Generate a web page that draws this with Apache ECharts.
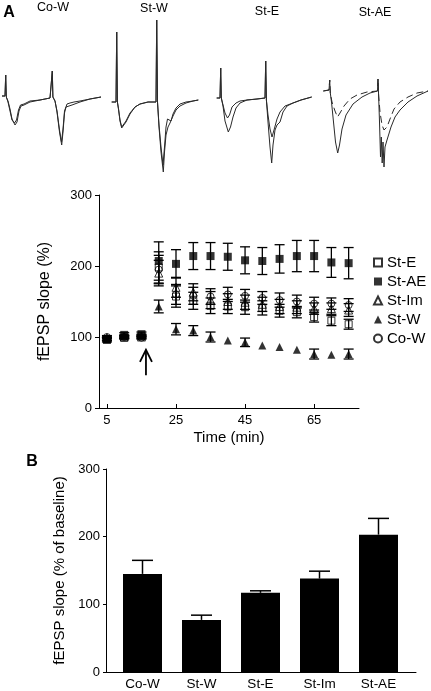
<!DOCTYPE html>
<html>
<head>
<meta charset="utf-8">
<script src="https://cdn.jsdelivr.net/npm/echarts@6/dist/echarts.min.js"></script>
<style>
html,body{margin:0;padding:0;background:#fff;}
#chart{width:431px;height:691px;}
</style>
</head>
<body>
<div id="chart"></div>
<script>
// ---------- DATA ----------
// Panel A traces: [time (a.u.), amplitude (a.u.)]
const traceLabels = ['Co-W', 'St-W', 'St-E', 'St-AE'];
const coW_a = [[2,1],[5,1],[5.7,22],[6.3,0],[8,-4],[10,-12],[12,-22],[15,-28],[17,-25],[19,-14],[21,-9],[24,-8],[30,-5],[40,-3],[50,-1],[51.8,0],[52.3,26],[52.9,0],[55,-4],[57,-15],[59.5,-35],[61.7,-48],[63,-35],[64.5,-16],[66,-10],[68,-11],[72,-8],[80,-5],[90,-2],[101,0]];
const coW_b = [[2,1],[5,1],[5.7,22],[6.3,0],[8,-5],[10,-14],[12,-23],[14.5,-26],[16.5,-23],[18.5,-13],[20.5,-8],[24,-7],[30,-4],[40,-3],[50,-1],[51.8,0],[52.3,26],[52.9,0],[55,-4],[57,-14],[59.5,-33],[61.5,-45],[63,-32],[64.5,-14],[67,-7],[70,-6],[74,-5],[80,-4],[90,-2],[101,0]];
const stW_a = [[1.7,-5],[6,-5],[6.7,65],[7.4,-5],[8.5,-12],[10,-24],[11.7,-31],[13.5,-30],[16,-25],[20,-17],[25,-10],[30,-7],[38,-5],[46,-5],[46.7,77],[47.5,-5],[49,-30],[51,-55],[53.3,-75],[54.5,-55],[56,-38],[58,-30],[60,-26],[63,-19],[66,-13],[70,-9],[76,-6],[83,-4],[88.3,-3]];
const stW_b = [[1.7,-5],[6,-5],[6.7,65],[7.4,-5],[8.5,-12],[10,-23],[11.7,-30],[13.5,-29],[16,-24],[20,-16],[25,-10],[30,-7],[38,-5],[46,-5],[46.7,77],[47.5,-5],[49,-28],[51,-50],[53,-68],[54.5,-50],[56,-30],[57.5,-22],[59,-21],[61,-24],[63,-17],[66,-11],[70,-7],[76,-5],[83,-4],[88.3,-3]];
const stE_a = [[1.7,-1],[5,-1],[5.7,29],[6.3,-1],[8,-9],[10,-24],[13.3,-35],[15.5,-30],[18,-20],[21,-11],[25,-6],[32,-3],[42,-2],[50,-1],[50.7,36],[51.4,-3],[53,-25],[55,-50],[56.7,-66],[58,-48],[60,-33],[62,-28],[65,-25],[68,-15],[72,-9],[78,-6],[86,-3],[96.7,0]];
const stE_b = [[1.7,-1],[5,-1],[5.7,29],[6.3,-1],[8,-8],[10,-16],[12.5,-21],[14.5,-18],[17,-10],[21,-6],[25,-4],[32,-3],[42,-2],[50,-1],[50.7,36],[51.4,-3],[53,-18],[55,-32],[57,-40],[59,-33],[62,-22],[65,-15],[70,-9],[78,-6],[86,-3],[96.7,0]];
const stAE_a = [[1.3,6],[7,7],[7.7,17],[8.3,4],[9.5,-5],[11.5,-25],[13.5,-45],[15.7,-56],[17.5,-48],[20,-32],[24,-18],[31,-7],[40,0],[48,4],[55.5,6],[56,18],[56.6,2],[57.5,-25],[58.5,-60],[59.3,-40],[60.2,-66],[61,-45],[62,-70],[63,-50],[65,-43],[66.5,-42],[69,-30],[73,-20],[78,-13],[86,-5],[95,1],[106,6]];
const stAE_b = [[1.3,6],[7,7],[7.7,17],[8.3,4],[10,-5],[13,-14],[15.5,-20],[18,-16],[22,-9],[28,-2],[35,2],[45,5],[55.5,6],[56,18],[56.6,2],[58,-15],[60,-28],[62,-33],[65,-30],[68,-22],[72,-12],[78,-5],[86,0],[95,4],[106,6]];

// Panel A time course
const times = [5,10,15,20,25,30,35,40,45,50,55,60,65,70,75];
const stE_mean  = [97,99,101,198,157,151,144,143,142,141,137,135,128,123,118];
const stE_se    = [2,2,2,22,15,12,11,10,10,10,9,8,7,7,7];
const stAE_mean = [96,103,104,207,203,214,214,213,208,207,210,214,214,205,204];
const stAE_se   = [3,3,3,27,20,19,19,19,19,19,20,22,22,21,22];
const stIm_mean = [99,100,100,190,170,163,152,150,149,146,143,142,140,140,138];
const stIm_se   = [2,2,2,18,14,12,12,11,10,10,10,9,8,8,9];
const stW_mean  = [97,101,102,143,111,109,100,95,92.5,88,86,82,76,75,76];
const stW_se    = [2,2,2,9,8,7,7,0,6,0,0,0,7,0,7];
const coW_mean  = [100,100,99,195,160,158,157,160,158,155,152,150,147,147,145];
const coW_se    = [2,2,2,20,14,12,11,10,9,9,10,9,9,8,9];
const xTicksA = [5,25,45,65];
const arrowAt = [[16.3, 46, 82]]; // time, bottom, top

// Panel B
const groups = ['Co-W','St-W','St-E','St-Im','St-AE'];
const barMeans = [145,77,117,138,203];
const barSE = [20,7,3,11,24];

// ---------- CHART ----------
const FONT = 'Liberation Sans, Arial, sans-serif';
const chart = echarts.init(document.getElementById('chart'), null, {renderer:'canvas'});

const traceGrids = [
  {left:0, width:103},
  {left:110, width:95},
  {left:215, width:100},
  {left:322, width:109}
];
const traceSets = [[coW_a, coW_b],[stW_a, stW_b],[stE_a, stE_b],[stAE_a, stAE_b]];

const grids = traceGrids.map(g => ({left:g.left, width:g.width, top:12, height:165}));
grids.push({left:99, top:195, width:260, height:213});   // 4: A plot
grids.push({left:106, top:469, width:310, height:203});  // 5: B axes frame
grids.push({left:113, top:469, width:295, height:203});  // 6: B bars

const xAxes = traceGrids.map((g,i) => ({type:'value', gridIndex:i, min:0, max:g.width, show:false}));
const yAxes = traceGrids.map((g,i) => ({type:'value', gridIndex:i, min:-80, max:85, show:false}));

const axisCommon = {
  axisLine:{show:true, lineStyle:{color:'#000', width:1}},
  splitLine:{show:false},
};

xAxes.push(Object.assign({}, axisCommon, {
  type:'value', gridIndex:4, min:2.7, max:78,
  name:'Time (min)', nameLocation:'middle', nameGap:22,
  nameTextStyle:{fontFamily:FONT, fontSize:15, color:'#000'},
  axisTick:{show:true, inside:true, length:4, customValues:xTicksA, lineStyle:{color:'#000'}},
  axisLabel:{customValues:xTicksA, fontFamily:FONT, fontSize:13, color:'#000', margin:6}
}));
yAxes.push(Object.assign({}, axisCommon, {
  type:'value', gridIndex:4, min:0, max:300, interval:100,
  name:'fEPSP slope (%)', nameLocation:'middle', nameGap:46, nameRotate:90,
  nameTextStyle:{fontFamily:FONT, fontSize:16, color:'#000'},
  axisTick:{show:true, length:4, lineStyle:{color:'#000'}},
  axisLabel:{fontFamily:FONT, fontSize:13, color:'#000', margin:7}
}));
// B frame axes
xAxes.push(Object.assign({}, axisCommon, {
  type:'value', gridIndex:5, min:0, max:1,
  axisTick:{show:false}, axisLabel:{show:false}
}));
yAxes.push(Object.assign({}, axisCommon, {
  type:'value', gridIndex:5, min:0, max:300, interval:100,
  name:'fEPSP slope (% of baseline)', nameLocation:'middle', nameGap:34, nameRotate:90,
  nameTextStyle:{fontFamily:FONT, fontSize:15, color:'#000'},
  axisTick:{show:true, length:3, lineStyle:{color:'#000'}},
  axisLabel:{fontFamily:FONT, fontSize:13, color:'#000', margin:6}
}));
// B bar axes
xAxes.push({
  type:'category', gridIndex:6, data:groups,
  axisLine:{show:false}, axisTick:{show:false}, splitLine:{show:false},
  axisLabel:{fontFamily:FONT, fontSize:13.5, color:'#000', margin:5, interval:0}
});
yAxes.push({
  type:'value', gridIndex:6, min:0, max:300, show:false, splitLine:{show:false}
});

const series = [];
traceSets.forEach((set, gi) => {
  set.forEach((tr, k) => {
    series.push({
      type:'line', xAxisIndex:gi, yAxisIndex:gi, data:tr, showSymbol:false, silent:true,
      lineStyle:{color:'#2a2a2a', width:1, type:(gi===3 && k===1) ? [7,4] : 'solid'},
      z:2
    });
  });
});

function errSeries(mean, se) {
  return {
    type:'custom', xAxisIndex:4, yAxisIndex:4, z:3, silent:true,
    data: times.map((t,i) => [t, mean[i], se[i]]),
    encode:{x:0, y:1},
    renderItem: function(params, api) {
      const x = api.value(0), m = api.value(1), e = api.value(2);
      if (!(e > 0)) return null;
      const a = api.coord([x, m + e]), b = api.coord([x, m - e]);
      const hw = 5, st = {stroke:'#000', lineWidth:1.3};
      return {type:'group', children:[
        {type:'line', shape:{x1:a[0], y1:a[1], x2:b[0], y2:b[1]}, style:st},
        {type:'line', shape:{x1:a[0]-hw, y1:a[1], x2:a[0]+hw, y2:a[1]}, style:st},
        {type:'line', shape:{x1:b[0]-hw, y1:b[1], x2:b[0]+hw, y2:b[1]}, style:st}
      ]};
    }
  };
}

const groupsA = [
  {name:'St-E', mean:stE_mean, se:stE_se, symbol:'rect', size:7, open:true},
  {name:'St-AE', mean:stAE_mean, se:stAE_se, symbol:'rect', size:8, open:false},
  {name:'St-Im', mean:stIm_mean, se:stIm_se, symbol:'triangle', size:8, open:true},
  {name:'St-W', mean:stW_mean, se:stW_se, symbol:'triangle', size:8, open:false},
  {name:'Co-W', mean:coW_mean, se:coW_se, symbol:'circle', size:7, open:true}
];
groupsA.forEach(g => series.push(errSeries(g.mean, g.se)));
groupsA.forEach(g => series.push({
  type:'scatter', name:g.name, xAxisIndex:4, yAxisIndex:4, z:5,
  symbol:g.symbol, symbolSize:g.size,
  data: times.map((t,i) => [t, g.mean[i]]),
  itemStyle: g.open ? {color:'rgba(255,255,255,0)', borderColor:'#000', borderWidth:1}
                    : {color:'#000', borderColor:'#000', borderWidth:0}
}));

// arrow
series.push({
  type:'custom', xAxisIndex:4, yAxisIndex:4, z:4, silent:true,
  data: arrowAt, encode:{x:0, y:[1,2]},
  renderItem: function(params, api) {
    const b = api.coord([api.value(0), api.value(1)]);
    const t = api.coord([api.value(0), api.value(2)]);
    const st = {stroke:'#000', lineWidth:1.8, fill:null};
    return {type:'group', children:[
      {type:'line', shape:{x1:b[0], y1:b[1], x2:t[0], y2:t[1]}, style:st},
      {type:'polyline', shape:{points:[[t[0]-6, t[1]+12],[t[0], t[1]],[t[0]+6, t[1]+12]]}, style:st}
    ]};
  }
});

// bars
series.push({
  type:'bar', xAxisIndex:6, yAxisIndex:6, barWidth:39, z:2,
  data: barMeans,
  itemStyle:{color:'#000'}
});
series.push({
  type:'custom', xAxisIndex:6, yAxisIndex:6, z:3, silent:true,
  data: groups.map((g,i) => [i, barMeans[i], barSE[i]]),
  encode:{x:0, y:1},
  renderItem: function(params, api) {
    const x = api.value(0), m = api.value(1), e = api.value(2);
    const a = api.coord([x, m + e]), b = api.coord([x, m]);
    const hw = 10.5, st = {stroke:'#000', lineWidth:1.5};
    return {type:'group', children:[
      {type:'line', shape:{x1:a[0], y1:a[1], x2:b[0], y2:b[1]}, style:st},
      {type:'line', shape:{x1:a[0]-hw, y1:a[1], x2:a[0]+hw, y2:a[1]}, style:st}
    ]};
  }
});

const traceLabelPos = [[53,8],[154,8.5],[267,11.5],[375,12.5]];
const graphic = traceLabels.map((t,i) => ({
  type:'text', x:traceLabelPos[i][0], y:traceLabelPos[i][1],
  style:{text:t, font:'12.5px ' + FONT, fill:'#000', align:'center', verticalAlign:'middle'}
}));
graphic.push({type:'text', x:9, y:13, style:{text:'A', font:'bold 16px ' + FONT, fill:'#000', align:'center', verticalAlign:'middle'}});
graphic.push({type:'text', x:32, y:462, style:{text:'B', font:'bold 16px ' + FONT, fill:'#000', align:'center', verticalAlign:'middle'}});

chart.setOption({
  animation:false,
  backgroundColor:'#fff',
  textStyle:{fontFamily:FONT},
  grid:grids,
  xAxis:xAxes,
  yAxis:yAxes,
  legend:{
    data:groupsA.map(g => g.name), orient:'vertical', left:368, top:250,
    itemWidth:8, itemHeight:8, itemGap:4,
    textStyle:{fontFamily:FONT, fontSize:15, color:'#000', lineHeight:15}
  },
  graphic:graphic,
  series:series
});
</script>
</body>
</html>
